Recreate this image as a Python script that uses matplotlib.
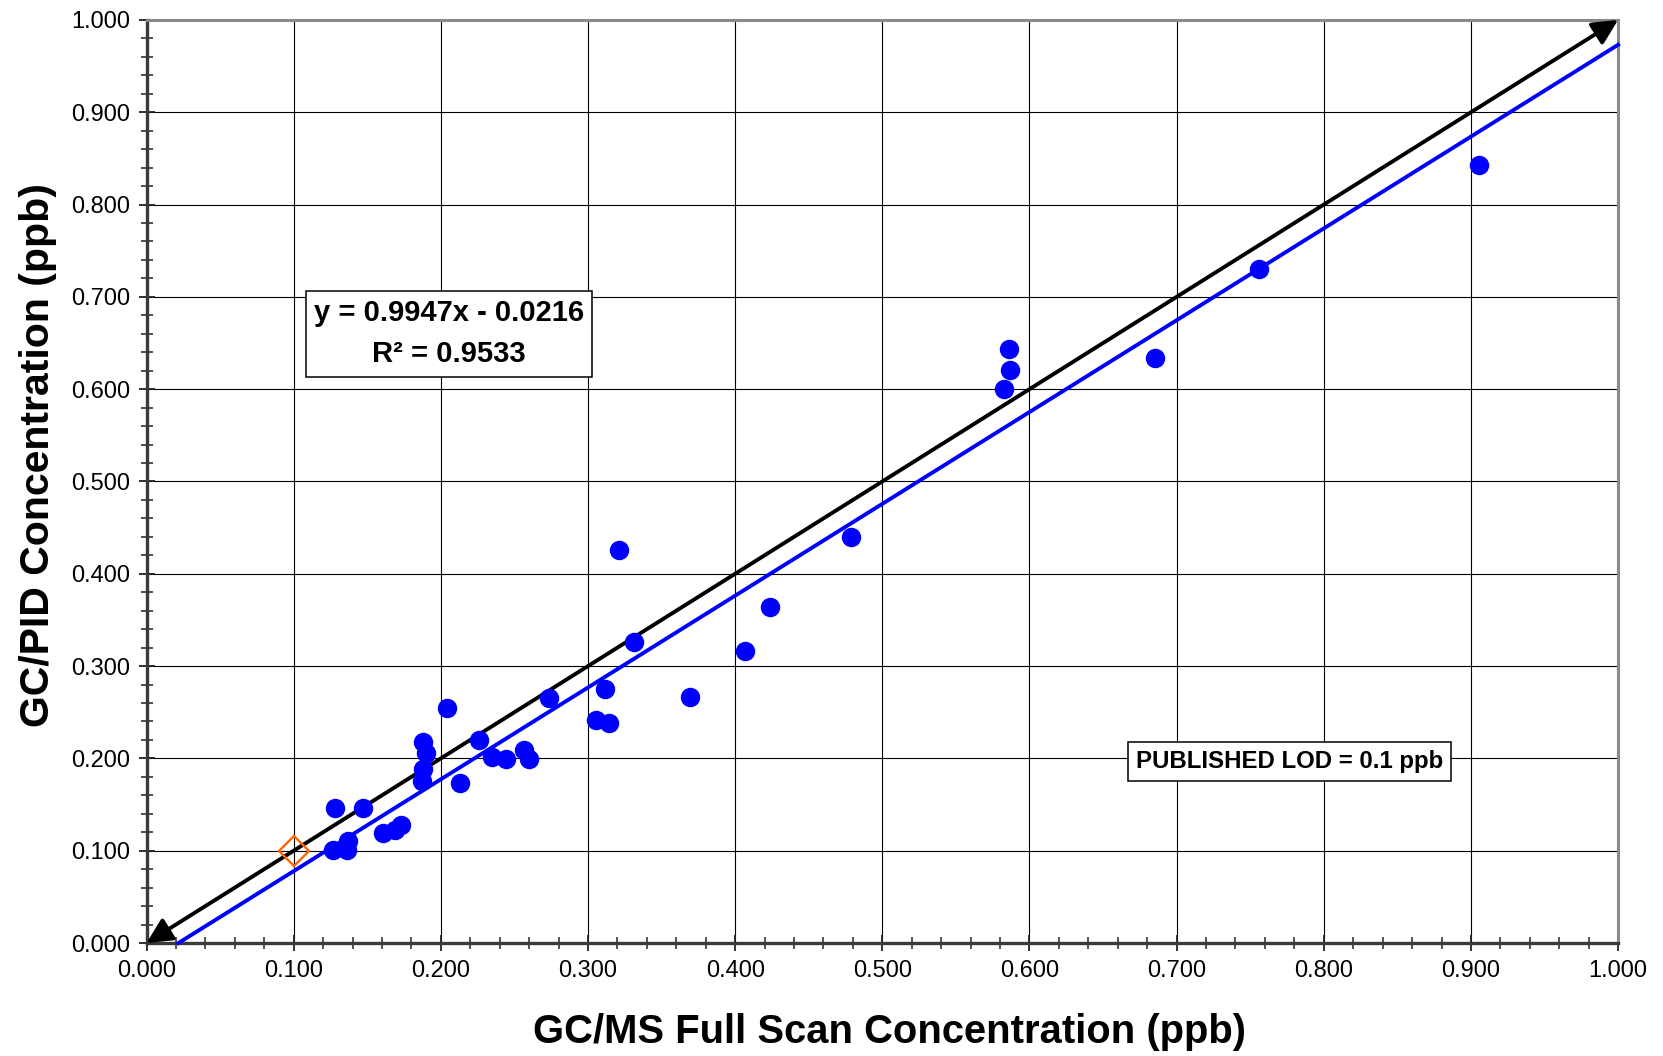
import matplotlib
matplotlib.use("Agg")
import matplotlib.pyplot as plt
from matplotlib.ticker import MultipleLocator, FormatStrFormatter

# GC/MS full scan vs GC/PID results (ppb)
gcms_ppb = [0.128, 0.147, 0.1265, 0.137, 0.1365, 0.161, 0.169, 0.173,
            0.204, 0.188, 0.190, 0.188, 0.187, 0.213, 0.226, 0.235,
            0.244, 0.2565, 0.260, 0.2737, 0.321, 0.331, 0.3116, 0.3055,
            0.3143, 0.369, 0.4067, 0.4237, 0.479, 0.5862, 0.5868, 0.583,
            0.6853, 0.756, 0.9055]
pid_ppb = [0.146, 0.146, 0.1008, 0.110, 0.101, 0.119, 0.122, 0.128,
           0.255, 0.218, 0.206, 0.188, 0.175, 0.173, 0.220, 0.201,
           0.199, 0.209, 0.199, 0.265, 0.426, 0.326, 0.275, 0.2416,
           0.238, 0.267, 0.3167, 0.3637, 0.440, 0.6432, 0.6208, 0.600,
           0.634, 0.730, 0.843]

# published limit of detection
lod_x, lod_y = [0.100], [0.100]

# least-squares fit
slope, intercept, r2 = 0.9947, -0.0216, 0.9533

plt.rcParams["font.family"] = ["Liberation Sans", "DejaVu Sans"]

fig = plt.figure(figsize=(16.63, 10.56), dpi=100)
ax = fig.add_axes([0.0881, 0.1070, 0.9730 - 0.0881, 0.9811 - 0.1070])

ax.set_xlim(0, 1.0)
ax.set_ylim(0, 1.0)

ax.grid(True, which="major", color="#000000", lw=0.8, zorder=0)

# 1:1 reference line with arrowheads at both ends
ax.annotate("", xy=(1.0, 1.0), xytext=(0.0, 0.0),
            arrowprops=dict(arrowstyle="<|-|>", color="black", lw=2.8,
                            mutation_scale=38, shrinkA=0, shrinkB=0),
            zorder=3, annotation_clip=False)

# fitted regression line, starting where it crosses y = 0
x0 = -intercept / slope
fit_x = [x0, 1.0]
fit_y = [slope * v + intercept for v in fit_x]
ax.plot(fit_x, fit_y, color="#0000ff", lw=2.8, zorder=3, clip_on=False)

ax.plot(gcms_ppb, pid_ppb, "o", color="#0000ff", ms=13, mec="#0000ff",
        zorder=4)
ax.plot(lod_x, lod_y, "D", mfc="none", mec="#ff6600", mew=1.7, ms=15.5,
        zorder=5)

ax.text(0.2054, 0.660, f"y = {slope:.4f}x - {abs(intercept):.4f}\nR² = {r2:.4f}",
        ha="center", va="center", fontsize=21, fontweight="bold",
        linespacing=1.6, zorder=6,
        bbox=dict(boxstyle="square,pad=0.28", fc="white", ec="black", lw=1.1))
ax.text(0.7766, 0.1964, "PUBLISHED LOD = 0.1 ppb",
        ha="center", va="center", fontsize=17.3, fontweight="bold", zorder=6,
        bbox=dict(boxstyle="square,pad=0.33", fc="white", ec="black", lw=1.1))

for a in (ax.xaxis, ax.yaxis):
    a.set_major_locator(MultipleLocator(0.1))
    a.set_minor_locator(MultipleLocator(0.02))
    a.set_major_formatter(FormatStrFormatter("%.3f"))

ax.tick_params(which="major", direction="inout", length=12, width=1.3,
               color="#222222", labelsize=17, pad=6)
ax.tick_params(which="minor", direction="inout", length=9, width=1.1,
               color="#222222")

for side in ("left", "bottom"):
    ax.spines[side].set_color("#3a3a3a")
    ax.spines[side].set_linewidth(2.4)
for side in ("top", "right"):
    ax.spines[side].set_color("#8a8a8a")
    ax.spines[side].set_linewidth(2.2)

fig.text(0.535, 0.0125, "GC/MS Full Scan Concentration (ppb)",
         ha="center", va="baseline", fontsize=28.8, fontweight="bold")
fig.text(0.023, 0.569, "GC/PID Concentration (ppb)", rotation=90,
         ha="center", va="center", fontsize=29.5, fontweight="bold")

fig.savefig("out.png", dpi=100)
